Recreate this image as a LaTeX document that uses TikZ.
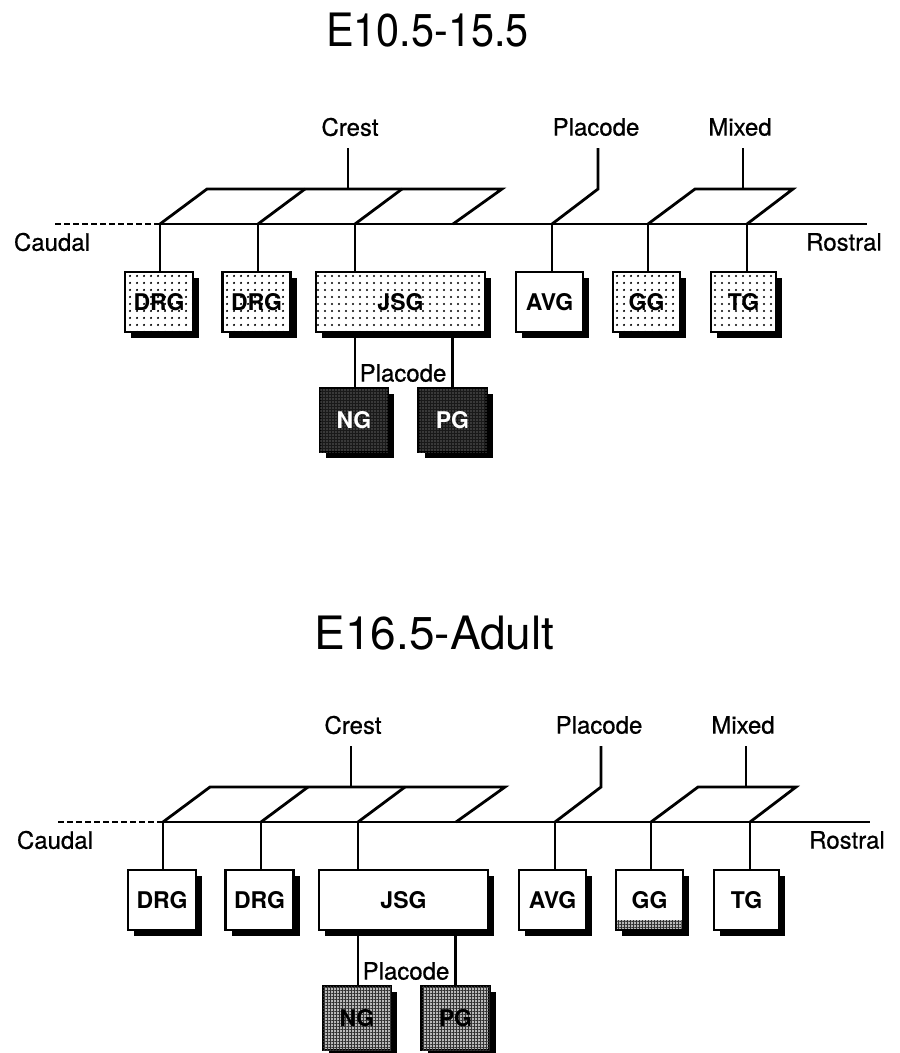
\documentclass[tikz,border=0pt]{standalone}
\usepackage{fontspec}
\setmainfont{TeX Gyre Heros}
\newfontfamily\medfont{TeX Gyre Heros}[FakeBold=0.6]
\usetikzlibrary{patterns.meta,shadows}
\tikzset{
  ln/.style={line width=2.8pt, line join=miter},
  dashln/.style={line width=2.8pt, dash pattern=on 6pt off 3pt},
  lab/.style={font=\medfont\fontsize{24}{28}\selectfont, inner sep=0pt},
  ttl/.style={font=\fontsize{46}{52}\selectfont, inner sep=0pt},
  gbox/.style={draw, line width=2.6pt, rectangle, inner sep=0pt, minimum height=60pt,
    fill=white, font=\fontsize{23}{26}\selectfont\bfseries,
    drop shadow={shadow xshift=6pt, shadow yshift=-6pt, opacity=1, fill=black}},
  smallbox/.style={gbox, minimum width=68pt},
  dotfill/.style={fill=white, postaction={pattern={Dots[distance=6.5pt, radius=1.2pt]}, pattern color=black}},
  darkfill/.style={fill=black!90, postaction={pattern={Dots[distance=3pt, radius=0.6pt]}, pattern color=gray!70}, text=white},
  gridfill/.style={fill=gray!55, postaction={pattern={Hatch[distance=3pt, line width=0.7pt, angle=0]}, pattern color=black!80}},
  whitefill/.style={fill=white},
}
% #1 prefix, #2 small-box fill, #3 AVG fill, #4 GG fill, #5 NG/PG fill
\newcommand\gangstage[5]{%
  \node[lab] (#1crest) at (350,127) {Crest};
  \node[lab] (#1plac) at (596,127) {Placode};
  \node[lab] (#1mixed) at (740,127) {Mixed};
  \node[lab] (#1caudal) at (52,242) {Caudal};
  \node[lab] (#1rostral) at (844,242) {Rostral};
  \coordinate (#1cl) at (55,224);
  \coordinate (#1c1) at (160,224);
  \coordinate (#1c2) at (258,224);
  \coordinate (#1c3) at (355,224);
  \coordinate (#1c4) at (453,224);
  \coordinate (#1c5) at (552,224);
  \coordinate (#1c6) at (648,224);
  \coordinate (#1c7) at (747,224);
  \coordinate (#1cr) at (867,224);
  \coordinate (#1u1) at (207,189);
  \coordinate (#1u2) at (305,189);
  \coordinate (#1u3) at (402,189);
  \coordinate (#1u4) at (502,189);
  \coordinate (#1cf) at (348,189);
  \coordinate (#1ct) at (348,148);
  \coordinate (#1pk) at (598,189);
  \coordinate (#1pt) at (598,148);
  \coordinate (#1m1) at (695,189);
  \coordinate (#1m2) at (793,189);
  \coordinate (#1mf) at (743,189);
  \coordinate (#1mt) at (743,148);
  \node[smallbox, #2] (#1drga) at (159,302) {DRG};
  \node[smallbox, #2] (#1drgb) at (256.5,302) {DRG};
  \node[gbox, minimum width=169pt, #2] (#1jsg) at (400.5,302) {JSG};
  \node[smallbox, minimum width=67pt, #3] (#1avg) at (549.5,302) {AVG};
  \node[smallbox, minimum width=67pt, #4] (#1gg) at (646.5,302) {GG};
  \node[smallbox, minimum width=65pt, #2] (#1tg) at (743.5,302) {TG};
  \node[smallbox, minimum height=64pt, #5] (#1ng) at (354,420) {NG};
  \node[smallbox, minimum height=64pt, #5] (#1pg) at (452.5,420) {PG};
  \node[lab] (#1plac2) at (403,373) {Placode};
  \draw[dashln] (#1cl) -- (#1c1);
  \draw[ln] (#1c1) -- (#1cr);
  \draw[ln] (#1c1) -- (#1u1) -- (#1u4) -- (#1c4);
  \draw[ln] (#1c2) -- (#1u2);
  \draw[ln] (#1c3) -- (#1u3);
  \draw[ln] (#1cf) -- (#1ct);
  \draw[ln] (#1c5) -- (#1pk) -- (#1pt);
  \draw[ln] (#1c6) -- (#1m1) -- (#1m2) -- (#1c7);
  \draw[ln] (#1mf) -- (#1mt);
  \draw[ln] (#1c1) -- (#1c1 |- #1drga.north);
  \draw[ln] (#1c2) -- (#1c2 |- #1drgb.north);
  \draw[ln] (#1c3) -- (#1c3 |- #1jsg.north);
  \draw[ln] (#1c5) -- (#1c5 |- #1avg.north);
  \draw[ln] (#1c6) -- (#1c6 |- #1gg.north);
  \draw[ln] (#1c7) -- (#1c7 |- #1tg.north);
  \draw[ln] (#1jsg.south -| #1c3) -- (#1ng.north -| #1c3);
  \draw[ln] (#1jsg.south -| #1pg.north) -- (#1pg.north);
}
\begin{document}
\begin{tikzpicture}[x={(1pt,0pt)}, y={(0pt,-1pt)}]
  \useasboundingbox (0,0) rectangle (900,1053);
  \node[ttl] (title1) at (427.5,30) {\scalebox{0.9}[1]{E10.5-15.5}};
  \node[ttl] (title2) at (434.5,633) {E16.5-Adult};
  \gangstage{a}{dotfill}{whitefill}{dotfill}{darkfill}
  \begin{scope}[xshift=3pt, yshift=-598pt]
    \gangstage{b}{whitefill}{whitefill}{whitefill}{gridfill}
    \fill[gray!55] ([xshift=2.6pt,yshift=2.6pt]bgg.south west) rectangle ([xshift=-2.6pt,yshift=11pt]bgg.south east);
    \pattern[pattern={Hatch[distance=3pt, line width=0.7pt, angle=0]}, pattern color=black!80] ([xshift=2.6pt,yshift=2.6pt]bgg.south west) rectangle ([xshift=-2.6pt,yshift=11pt]bgg.south east);
  \end{scope}
\end{tikzpicture}
\end{document}
